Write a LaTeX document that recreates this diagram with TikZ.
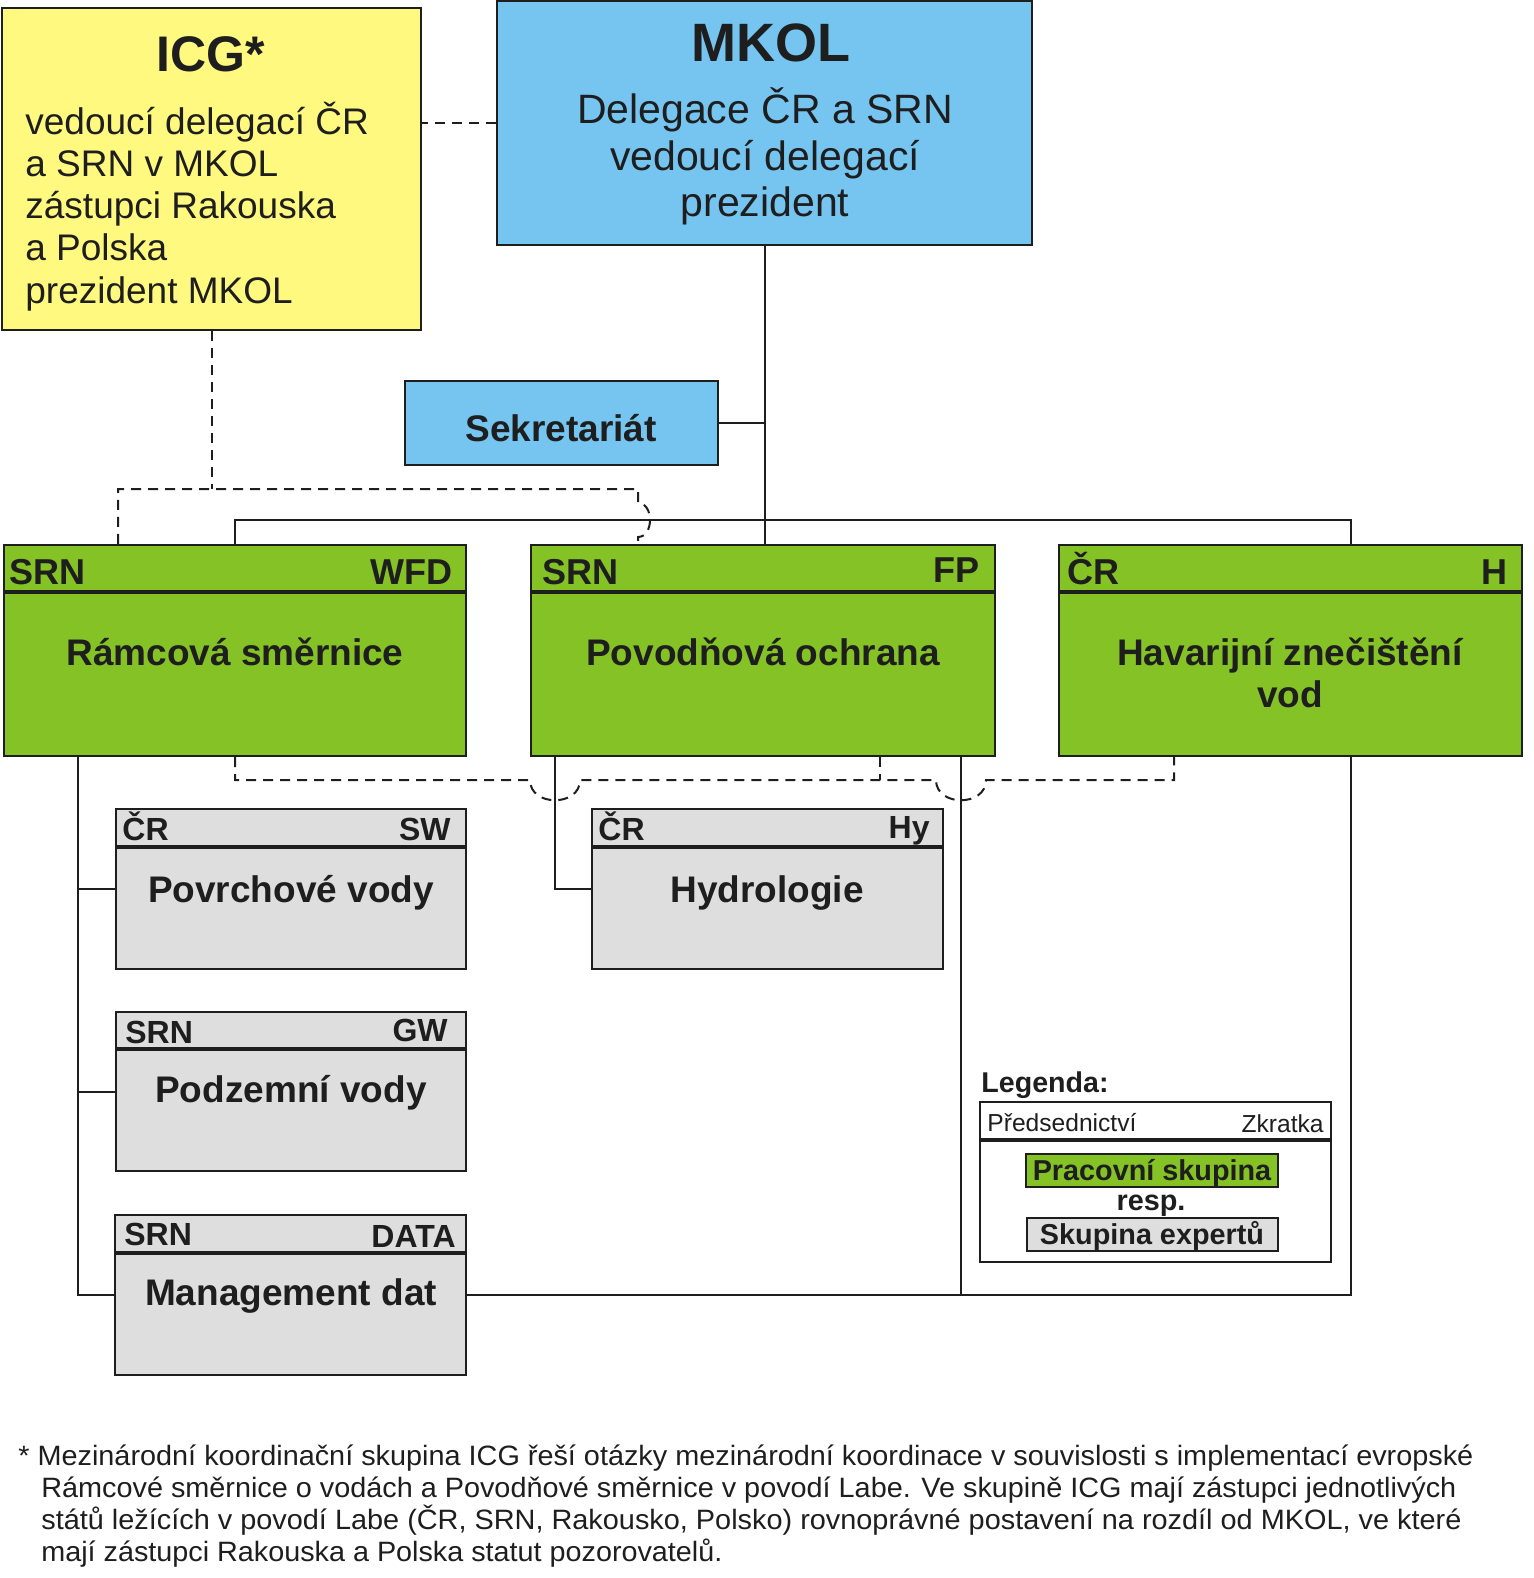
\documentclass[tikz,border=0pt]{standalone}
\usepackage{fontspec}
\setmainfont{Liberation Sans}
\usepackage{graphicx}
\usetikzlibrary{fit}
\definecolor{icgy}{RGB}{255,249,128}
\definecolor{mkolb}{RGB}{117,197,240}
\definecolor{wg}{RGB}{132,194,37}
\definecolor{eg}{RGB}{222,222,222}
\definecolor{ink}{RGB}{30,30,30}
\newcommand\myfs[2]{\fontsize{#1pt}{#2pt}\selectfont}
\begin{document}
\begin{tikzpicture}[x=0.5pt,y=-0.5pt,
  boxst/.style={draw=ink, line width=1.2pt, inner sep=0pt},
  conn/.style={draw=ink, line width=1pt},
  dconn/.style={draw=ink, line width=1pt, dash pattern=on 5pt off 3.5pt},
  hdr/.style={draw=ink, line width=1.6pt},
  txt/.style={inner sep=0pt, text=ink},
  big/.style={txt, font=\bfseries\myfs{25}{30}},
  icgl/.style={txt, anchor=base west, font=\myfs{18.5}{21}},
  mkoll/.style={txt, anchor=base, font=\myfs{20.5}{23}},
  title/.style={txt, anchor=base, font=\bfseries\myfs{18.5}{21}},
  ghw/.style={txt, anchor=base west, font=\bfseries\myfs{18}{20}},
  ghe/.style={txt, anchor=base east, font=\bfseries\myfs{18}{20}},
  eshw/.style={txt, anchor=base west, font=\bfseries\myfs{16}{18}},
  eshe/.style={txt, anchor=base east, font=\bfseries\myfs{16}{18}},
  foot/.style={txt, anchor=base west, font=\myfs{14}{16}}
]
\useasboundingbox (0,0) rectangle (1534,1578);

% ---------- top boxes ----------
\node[boxst, fill=icgy, fit={(2,8) (421,330)}] (icg) {};
\node[big, anchor=base] (icgt) at (211,72) {ICG*};
\node[icgl] (icg1) at (25,135) {vedoucí delegací ČR};
\node[icgl] (icg2) at (25,177) {a SRN v MKOL};
\node[icgl] (icg3) at (25,219) {zástupci Rakouska};
\node[icgl] (icg4) at (25,261) {a Polska};
\node[icgl] (icg5) at (25,303) {prezident MKOL};

\node[boxst, fill=mkolb, fit={(497,1) (1032,245)}] (mkol) {};
\node[big, anchor=base, font=\bfseries\myfs{27}{30}] (mkolt) at (771,62) {MKOL};
\node[mkoll] (mk1) at (765,124) {Delegace ČR a SRN};
\node[mkoll] (mk2) at (765,171) {vedoucí delegací};
\node[mkoll] (mk3) at (765,217) {prezident};

\node[boxst, fill=mkolb, fit={(405,381) (718,465)}] (sek) {};
\node[title] (sekt) at (561,441) {Sekretariát};

% ---------- working groups ----------
\node[boxst, fill=wg, fit={(4,545) (466,756)}] (wfd) {};
\draw[hdr] (4,592) -- (466,592);
\node[ghw] (wfdl) at (9,584) {SRN};
\node[ghe] (wfdr) at (453,584) {WFD};
\node[title] (wfdt) at (235,665) {Rámcová směrnice};

\node[boxst, fill=wg, fit={(531,545) (995,756)}] (fp) {};
\draw[hdr] (531,592) -- (995,592);
\node[ghw] (fpl) at (542,584) {SRN};
\node[ghe] (fpr) at (980,582) {FP};
\node[title] (fpt) at (763,665) {Povodňová ochrana};

\node[boxst, fill=wg, fit={(1059,545) (1522,756)}] (hav) {};
\draw[hdr] (1059,592) -- (1522,592);
\node[ghw] (havl) at (1067,584) {ČR};
\node[ghe] (havr) at (1508,584) {H};
\node[title] (havt1) at (1290,665) {Havarijní znečištění};
\node[title] (havt2) at (1290,707) {vod};

% ---------- expert groups ----------
\node[boxst, fill=eg, fit={(116,809) (466,969)}] (sw) {};
\draw[hdr] (116,847) -- (466,847);
\node[eshw] (swl) at (122,840) {ČR};
\node[eshe] (swr) at (451,840) {SW};
\node[title] (swt) at (291,902) {Povrchové vody};

\node[boxst, fill=eg, fit={(592,809) (943,969)}] (hy) {};
\draw[hdr] (592,847) -- (943,847);
\node[eshw] (hyl) at (598,840) {ČR};
\node[eshe] (hyr) at (930,838) {Hy};
\node[title] (hyt) at (767,902) {Hydrologie};

\node[boxst, fill=eg, fit={(116,1012) (466,1171)}] (gw) {};
\draw[hdr] (116,1049) -- (466,1049);
\node[eshw] (gwl) at (125,1043) {SRN};
\node[eshe] (gwr) at (448,1041) {GW};
\node[title] (gwt) at (291,1102) {Podzemní vody};

\node[boxst, fill=eg, fit={(115,1215) (466,1375)}] (mgmt) {};
\draw[hdr] (115,1253) -- (466,1253);
\node[eshw] (mgl) at (124,1245) {SRN};
\node[eshe] (mgr) at (456,1247) {DATA};
\node[title] (mgt) at (291,1305) {Management dat};

% ---------- legend ----------
\node[txt, anchor=base west, font=\bfseries\myfs{14.3}{16}] (leg) at (981,1092) {Legenda:};
\node[boxst, fill=white, fit={(980,1102) (1331,1262)}] (legbox) {};
\draw[hdr] (980,1140) -- (1331,1140);
\node[txt, anchor=base west, font=\myfs{12.3}{14}] (legl) at (987,1131) {Předsednictví};
\node[txt, anchor=base east, font=\myfs{12.3}{14}] (legr) at (1324,1132) {Zkratka};
\node[boxst, line width=1pt, fill=wg, fit={(1026,1154) (1278,1187)}] (legg) {};
\node[txt, anchor=base, font=\bfseries\myfs{14.4}{16}] (leggt) at (1152,1180) {Pracovní skupina};
\node[txt, anchor=base, font=\bfseries\myfs{14.4}{16}] (resp) at (1151,1210) {resp.};
\node[boxst, line width=1pt, fill=eg, fit={(1027,1218) (1278,1251)}] (lege) {};
\node[txt, anchor=base, font=\bfseries\myfs{14.4}{16}] (leget) at (1152,1244) {Skupina expertů};

% ---------- connectors ----------
\coordinate (busy) at (0,520);
\coordinate (dtop) at (0,489);
\coordinate (dbot) at (0,780);
\draw[dconn] (mkol.west) -- (mkol.west -| icg.east);
\draw[conn] (mkol.south) -- (mkol.south |- fp.north);
\draw[conn] (sek.east) -- (sek.east -| mkol.south);
\draw[conn] (wfd.north) -- (wfd.north |- busy) -- (1351,520) -- (1351,0 |- hav.north);

\draw[dconn] (icg.south) -- (icg.south |- dtop);
\draw[dconn] (118,0 |- wfd.north) -- (118,489) -- (638,489) -- (638,503)
  .. controls (654,503) and (654,537) .. (638,537) -- (638,0 |- fp.north);

\draw[conn] (78,0 |- wfd.south) |- (mgmt.west);
\draw[conn] (78,0 |- sw.west) -- (sw.west);
\draw[conn] (78,0 |- gw.west) -- (gw.west);
\draw[conn] (555,0 |- fp.south) |- (hy.west);
\draw[conn] (961,0 |- fp.south) -- (961,0 |- mgmt.east);
\draw[conn] (mgmt.east) -| (1351,0 |- hav.south);

\draw[dconn] (wfd.south) -- (wfd.south |- dbot) -- (530,780)
  .. controls (530,807) and (580,807) .. (580,780) -- (936,780)
  .. controls (936,807) and (986,807) .. (986,780) -- (1174,780) -- (1174,0 |- hav.south);
\draw[dconn] (880,0 |- fp.south) -- (880,780);

% ---------- footnote ----------
\node[foot] (f1) at (18,1465) {\resizebox{727.5pt}{\height}{* Mezinárodní koordinační skupina ICG řeší otázky mezinárodní koordinace v souvislosti s implementací evropské}};
\node[foot] (f2) at (41,1497) {\resizebox{707.5pt}{\height}{Rámcové směrnice o vodách a Povodňové směrnice v povodí Labe. Ve skupině ICG mají zástupci jednotlivých}};
\node[foot] (f3) at (41,1529) {\resizebox{710pt}{\height}{států ležících v povodí Labe (ČR, SRN, Rakousko, Polsko) rovnoprávné postavení na rozdíl od MKOL, ve které}};
\node[foot] (f4) at (41,1561) {\resizebox{340.5pt}{\height}{mají zástupci Rakouska a Polska statut pozorovatelů.}};
\end{tikzpicture}
\end{document}
